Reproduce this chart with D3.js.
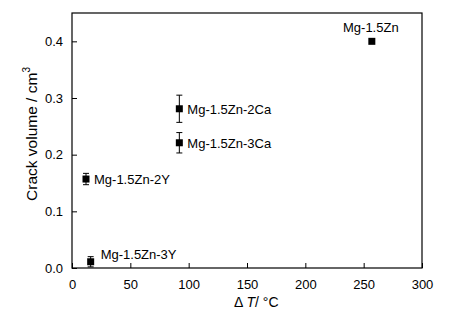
<!DOCTYPE html>
<html lang="en">
  <head>
    <meta charset="UTF-8" />
    <title>Crack volume vs dT</title>
    <script src="https://d3js.org/d3.v7.min.js"></script>
    <style>
      body { margin: 0; background: #fff; }
      text { font-family: "Liberation Sans", Arial, sans-serif; fill: #000; }
    </style>
  </head>
  <body>
    <div id="chart-container"></div>

    <script>
      // Data
      const alloys = ["Mg-1.5Zn", "Mg-1.5Zn-2Ca", "Mg-1.5Zn-3Ca", "Mg-1.5Zn-2Y", "Mg-1.5Zn-3Y"];
      const deltaT = [257, 92, 92, 12, 16];
      const crackVolume = [0.40, 0.281, 0.221, 0.157, 0.011];
      const errors = [0, 0.024, 0.018, 0.01, 0.009];
      const xTicks = [0, 50, 100, 150, 200, 250, 300];
      const yTicks = [0.0, 0.1, 0.2, 0.3, 0.4];

      const margin = { top: 13, right: 31, bottom: 57, left: 72 };
      const width = 453 - margin.left - margin.right;
      const height = 325 - margin.top - margin.bottom;

      const svg = d3
        .select("#chart-container")
        .append("svg")
        .attr("width", 453)
        .attr("height", 325);

      const g = svg
        .append("g")
        .attr("transform", "translate(" + margin.left + "," + margin.top + ")");

      const x = d3.scaleLinear().domain([0, 300]).range([0, width]);
      const y = d3.scaleLinear().domain([0, 0.45]).range([height, 0]);

      // Axes with inward ticks
      const xAxis = d3.axisBottom(x).tickValues(xTicks).tickSizeInner(-5).tickSizeOuter(0).tickPadding(12);
      const yAxis = d3.axisLeft(y).tickValues(yTicks).tickFormat(d3.format(".1f")).tickSizeInner(-5).tickSizeOuter(0).tickPadding(9);

      g.append("g")
        .attr("transform", "translate(0," + height + ")")
        .call(xAxis)
        .call((a) => a.select(".domain").remove())
        .selectAll("text")
        .style("font-size", "13px");

      g.append("g")
        .call(yAxis)
        .call((a) => a.select(".domain").remove())
        .selectAll("text")
        .style("font-size", "13px");

      // Frame
      g.append("rect")
        .attr("width", width)
        .attr("height", height)
        .attr("fill", "none")
        .attr("stroke", "#000")
        .attr("stroke-width", 1.2);

      // Error bars
      const pts = alloys.map((name, i) => ({
        name: name,
        t: deltaT[i],
        v: crackVolume[i],
        e: errors[i],
      }));

      const eb = g.selectAll(".err").data(pts.filter((d) => d.e > 0)).enter().append("g").attr("class", "err");
      eb.append("line")
        .attr("x1", (d) => x(d.t))
        .attr("x2", (d) => x(d.t))
        .attr("y1", (d) => y(d.v - d.e))
        .attr("y2", (d) => y(d.v + d.e))
        .attr("stroke", "#000");
      [-1, 1].forEach((s) => {
        eb.append("line")
          .attr("x1", (d) => x(d.t) - 3)
          .attr("x2", (d) => x(d.t) + 3)
          .attr("y1", (d) => y(d.v + s * d.e))
          .attr("y2", (d) => y(d.v + s * d.e))
          .attr("stroke", "#000");
      });

      // Square markers
      g.selectAll(".pt")
        .data(pts)
        .enter()
        .append("rect")
        .attr("class", "pt")
        .attr("x", (d) => x(d.t) - 3.5)
        .attr("y", (d) => y(d.v) - 3.5)
        .attr("width", 7)
        .attr("height", 7)
        .attr("fill", "#000");

      // Point labels
      g.selectAll(".lbl")
        .data(pts)
        .enter()
        .append("text")
        .attr("class", "lbl")
        .style("font-size", "13px")
        .attr("text-anchor", (d, i) => (i === 0 ? "middle" : "start"))
        .attr("x", (d, i) => (i === 0 ? x(d.t) - 1 : x(d.t) + (i === 4 ? 10 : 8)))
        .attr("y", (d, i) => (i === 0 ? y(d.v) - 9 : y(d.v) + (i === 4 ? -3 : 5)))
        .text((d) => d.name);

      // Axis titles
      const xt = svg.append("text")
        .attr("x", 234)
        .attr("y", 307)
        .style("font-size", "14px");
      xt.append("tspan").text("\u0394 ");
      xt.append("tspan").attr("font-style", "italic").text("T");
      xt.append("tspan").text("/ \u00B0C");

      const yt = svg.append("text")
        .attr("transform", "translate(37,134) rotate(-90)")
        .attr("text-anchor", "middle")
        .style("font-size", "15.5px");
      yt.append("tspan").text("Crack volume / cm");
      yt.append("tspan").attr("dy", -7).style("font-size", "10px").text("3");
    </script>
  </body>
</html>
